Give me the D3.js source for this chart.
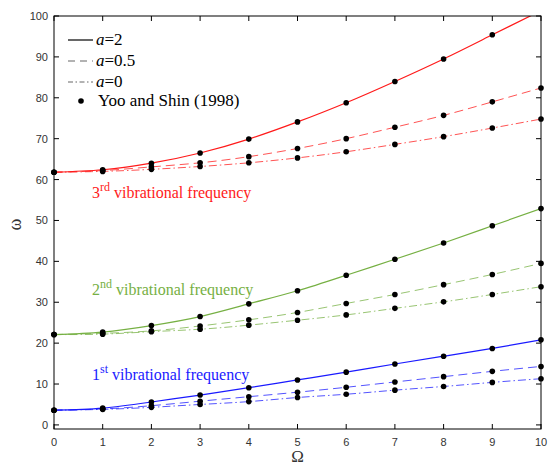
<!DOCTYPE html>
<html>
<head>
<meta charset="utf-8">
<script src="https://cdn.jsdelivr.net/npm/d3@7"></script>
<style>
  html, body { margin: 0; padding: 0; background: #fff; }
  svg { display: block; }
</style>
</head>
<body>
<svg id="chart" width="548" height="465"></svg>
<script>
// Rotating speed Ω (abscissa)
const omegaSpeed = [0, 1, 2, 3, 4, 5, 6, 7, 8, 9, 10];

// First natural frequency for three values of a
const mode1_a2  = [3.6, 4.1, 5.6, 7.3, 9.1, 11.0, 12.9, 14.9, 16.8, 18.7, 20.8];
const mode1_a05 = [3.6, 3.9, 4.7, 5.8, 6.9, 8.0, 9.2, 10.5, 11.8, 13.1, 14.3];
const mode1_a0  = [3.6, 3.8, 4.3, 5.0, 5.7, 6.7, 7.5, 8.5, 9.4, 10.4, 11.3];

// Second natural frequency
const mode2_a2  = [22.1, 22.7, 24.3, 26.5, 29.6, 32.8, 36.6, 40.5, 44.5, 48.7, 52.9];
const mode2_a05 = [22.1, 22.4, 23.0, 24.2, 25.7, 27.5, 29.7, 31.9, 34.3, 36.8, 39.5];
const mode2_a0  = [22.1, 22.2, 22.8, 23.4, 24.4, 25.6, 26.9, 28.5, 30.1, 31.9, 33.8];

// Third natural frequency
const mode3_a2  = [61.8, 62.4, 64.0, 66.5, 69.9, 74.1, 78.8, 84.0, 89.5, 95.4, 101.3];
const mode3_a05 = [61.8, 62.2, 63.1, 64.1, 65.6, 67.6, 70.0, 72.8, 75.7, 79.0, 82.4];
const mode3_a0  = [61.8, 62.0, 62.5, 63.2, 64.1, 65.3, 66.8, 68.6, 70.5, 72.6, 74.8];

const xTicks = [0, 1, 2, 3, 4, 5, 6, 7, 8, 9, 10];
const yTicks = [0, 10, 20, 30, 40, 50, 60, 70, 80, 90, 100];

const seriesColors = { mode1: "#1a1aff", mode2: "#76b043", mode3: "#ff1a1a" };

const svg = d3.select("#chart");
const plotLeft = 54, plotRight = 541, plotTop = 16, plotBottom = 429;

const x = d3.scaleLinear().domain([0, 10]).range([plotLeft, plotRight]);
const y = d3.scaleLinear().domain([-1, 100]).range([plotBottom, plotTop]);

svg.append("defs").append("clipPath").attr("id", "plotClip")
  .append("rect").attr("x", plotLeft).attr("y", plotTop)
  .attr("width", plotRight - plotLeft).attr("height", plotBottom - plotTop);

const plot = svg.append("g").attr("clip-path", "url(#plotClip)");

const line = d3.line()
  .x((d, i) => x(omegaSpeed[i]))
  .y(d => y(d))
  .curve(d3.curveNatural);

const styles = {
  a2:  { dash: null,        width: 1.2, opacity: 1 },
  a05: { dash: "9,5",       width: 1,   opacity: 0.75 },
  a0:  { dash: "8,3,1.5,3", width: 1,   opacity: 0.75 }
};

const series = [
  { values: mode1_a2,  color: seriesColors.mode1, style: styles.a2 },
  { values: mode1_a05, color: seriesColors.mode1, style: styles.a05 },
  { values: mode1_a0,  color: seriesColors.mode1, style: styles.a0 },
  { values: mode2_a2,  color: seriesColors.mode2, style: styles.a2 },
  { values: mode2_a05, color: seriesColors.mode2, style: styles.a05 },
  { values: mode2_a0,  color: seriesColors.mode2, style: styles.a0 },
  { values: mode3_a2,  color: seriesColors.mode3, style: styles.a2 },
  { values: mode3_a05, color: seriesColors.mode3, style: styles.a05 },
  { values: mode3_a0,  color: seriesColors.mode3, style: styles.a0 }
];

series.forEach(s => {
  plot.append("path")
    .attr("d", line(s.values))
    .attr("fill", "none")
    .attr("stroke", s.color)
    .attr("stroke-width", s.style.width)
    .attr("stroke-opacity", s.style.opacity)
    .attr("stroke-dasharray", s.style.dash);
});

// Reference points (Yoo and Shin, 1998)
const dotLayer = svg.append("g");
series.forEach(s => {
  dotLayer.selectAll(null)
    .data(s.values.map((v, i) => [omegaSpeed[i], v]).filter(d => d[1] <= 100))
    .enter().append("circle")
    .attr("cx", d => x(d[0]))
    .attr("cy", d => y(d[1]))
    .attr("r", 2.8)
    .attr("fill", "#000");
});

// Frame with inward ticks on all sides
const tickFont = "'Liberation Sans', Arial, sans-serif";
const axisG = svg.append("g").attr("stroke", "#000").attr("stroke-width", 1);
axisG.append("rect").attr("x", plotLeft).attr("y", plotTop)
  .attr("width", plotRight - plotLeft).attr("height", plotBottom - plotTop).attr("fill", "none");

const tl = 5;
xTicks.forEach(t => {
  axisG.append("line").attr("x1", x(t)).attr("x2", x(t)).attr("y1", plotBottom).attr("y2", plotBottom - tl);
  axisG.append("line").attr("x1", x(t)).attr("x2", x(t)).attr("y1", plotTop).attr("y2", plotTop + tl);
});
yTicks.forEach(t => {
  axisG.append("line").attr("x1", plotLeft).attr("x2", plotLeft + tl).attr("y1", y(t)).attr("y2", y(t));
  axisG.append("line").attr("x1", plotRight).attr("x2", plotRight - tl).attr("y1", y(t)).attr("y2", y(t));
});

svg.append("g").selectAll("text").data(xTicks).enter().append("text")
  .attr("x", d => x(d)).attr("y", plotBottom + 17)
  .attr("text-anchor", "middle")
  .attr("font-family", tickFont).attr("font-size", 11).attr("fill", "#333")
  .text(d => d);

svg.append("g").selectAll("text").data(yTicks).enter().append("text")
  .attr("x", plotLeft - 6).attr("y", d => y(d) + 4)
  .attr("text-anchor", "end")
  .attr("font-family", tickFont).attr("font-size", 11).attr("fill", "#333")
  .text(d => d);

// Axis titles
const serif = "'Liberation Serif', 'Times New Roman', serif";
svg.append("text")
  .attr("x", (plotLeft + plotRight) / 2).attr("y", 462)
  .attr("text-anchor", "middle")
  .attr("font-family", serif).attr("font-size", 17).attr("fill", "#333")
  .text("Ω");
svg.append("text")
  .attr("transform", `translate(21, ${y(49)}) rotate(-90)`)
  .attr("text-anchor", "middle")
  .attr("font-family", serif).attr("font-size", 18).attr("fill", "#333")
  .text("ω");

// Mode labels
const modeLabels = [
  { num: "3", sup: "rd", color: seriesColors.mode3, yv: 55.6 },
  { num: "2", sup: "nd", color: seriesColors.mode2, yv: 31.7 },
  { num: "1", sup: "st", color: seriesColors.mode1, yv: 11.0 }
];
modeLabels.forEach(m => {
  const t = svg.append("text")
    .attr("x", x(0.78)).attr("y", y(m.yv))
    .attr("font-family", serif).attr("font-size", 16).attr("fill", m.color);
  t.append("tspan").text(m.num);
  t.append("tspan").attr("dy", -7).attr("font-size", 12).text(m.sup);
  t.append("tspan").attr("dy", 7).text(" vibrational frequency");
});

// Legend
const legend = svg.append("g");
const legendRows = [
  { label: "=2",   style: styles.a2,  yp: 40 },
  { label: "=0.5", style: styles.a05, yp: 61 },
  { label: "=0",   style: styles.a0,  yp: 82 }
];
legendRows.forEach(r => {
  legend.append("line")
    .attr("x1", 68).attr("x2", 93).attr("y1", r.yp).attr("y2", r.yp)
    .attr("stroke", "#000").attr("stroke-width", r.style.width)
    .attr("stroke-opacity", r.style.dash ? 0.6 : 1)
    .attr("stroke-dasharray", r.style.dash ? (r.style.dash === "9,5" ? "7,5" : "5,2.5,1.5,2.5") : null);
  const t = legend.append("text")
    .attr("x", 96).attr("y", r.yp + 5)
    .attr("font-family", serif).attr("font-size", 17).attr("fill", "#000");
  t.append("tspan").attr("font-style", "italic").text("a");
  t.append("tspan").text(r.label);
});
legend.append("circle").attr("cx", 81).attr("cy", 101).attr("r", 2.8).attr("fill", "#000");
legend.append("text")
  .attr("x", 98).attr("y", 106)
  .attr("font-family", serif).attr("font-size", 17).attr("fill", "#000")
  .text("Yoo and Shin (1998)");
</script>
</body>
</html>
